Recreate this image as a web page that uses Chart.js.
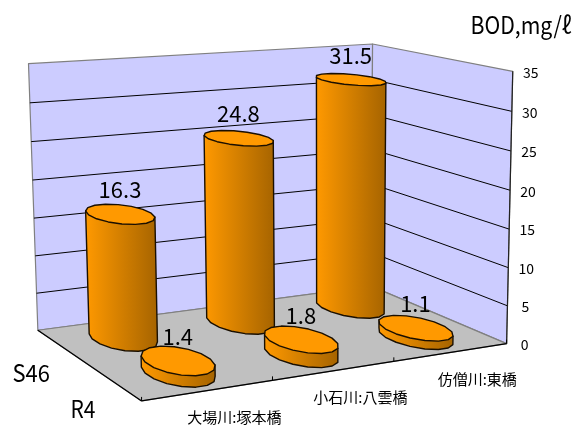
<!DOCTYPE html>
<html>
<head>
<meta charset="utf-8">
<style>
  html, body { margin: 0; padding: 0; background: #fff; }
  canvas { display: block; }
</style>
<script src="https://cdn.jsdelivr.net/npm/chart.js@4"></script>
</head>
<body>
<canvas id="chart" width="575" height="430"></canvas>
<script>
const categories = ['大場川:塚本橋', '小石川:八雲橋', '仿僧川:東橋'];
const seriesNames = ['S46', 'R4'];
const s46Values = [16.3, 24.8, 31.5];
const r4Values = [1.4, 1.8, 1.1];
const axisTitle = 'BOD,mg/ℓ';
const yMax = 35;
const yStep = 5;

const JP = '"Noto Sans CJK JP", sans-serif';

// where the corners of the unit box (u, v, w) land on the page
const boxCorners = [
  [0, 0, 0, 142, 402],
  [1, 0, 0, 505, 343],
  [0, 1, 0, 37, 329],
  [1, 1, 0, 373, 287],
  [0, 1, 1, 29, 64],
  [1, 1, 1, 371, 44],
  [1, 0, 1, 514, 71],
];

// least squares fit of a projective camera to the corners above
function fitCamera(pts) {
  const rows = [];
  pts.forEach(([u, v, w, x, y]) => {
    rows.push([u, v, w, 1, 0, 0, 0, 0, -x * u, -x * v, -x * w, x]);
    rows.push([0, 0, 0, 0, u, v, w, 1, -y * u, -y * v, -y * w, y]);
  });
  const n = 11;
  const m = [];
  for (let i = 0; i < n; i++) {
    m.push(new Array(n + 1).fill(0));
    for (let j = 0; j <= n; j++) {
      rows.forEach((r) => { m[i][j] += r[i] * r[j]; });
    }
  }
  for (let i = 0; i < n; i++) {
    let p = i;
    for (let k = i + 1; k < n; k++) if (Math.abs(m[k][i]) > Math.abs(m[p][i])) p = k;
    [m[i], m[p]] = [m[p], m[i]];
    for (let k = 0; k < n; k++) {
      if (k === i) continue;
      const f = m[k][i] / m[i][i];
      for (let j = i; j <= n; j++) m[k][j] -= f * m[i][j];
    }
  }
  return m.map((r, i) => r[n] / r[i]);
}
const cam = fitCamera(boxCorners);

function project(u, v, w) {
  const d = cam[8] * u + cam[9] * v + cam[10] * w + 1;
  return [
    (cam[0] * u + cam[1] * v + cam[2] * w + cam[3]) / d,
    (cam[4] * u + cam[5] * v + cam[6] * w + cam[7]) / d,
  ];
}

function poly(ctx, pts, fill, stroke, width) {
  ctx.beginPath();
  pts.forEach((p, i) => (i ? ctx.lineTo(p[0], p[1]) : ctx.moveTo(p[0], p[1])));
  ctx.closePath();
  if (fill) { ctx.fillStyle = fill; ctx.fill(); }
  if (stroke) { ctx.strokeStyle = stroke; ctx.lineWidth = width || 1; ctx.stroke(); }
}

function line(ctx, a, b, color, width) {
  ctx.beginPath();
  ctx.moveTo(a[0], a[1]);
  ctx.lineTo(b[0], b[1]);
  ctx.strokeStyle = color;
  ctx.lineWidth = width || 1;
  ctx.stroke();
}

function text(ctx, str, x, y, font, maxWidth) {
  ctx.font = font;
  ctx.fillStyle = '#000';
  ctx.textAlign = 'center';
  ctx.textBaseline = 'middle';
  if (maxWidth) ctx.fillText(str, x, y, maxWidth);
  else ctx.fillText(str, x, y);
}

const DU = 0.075;
const DV = 0.2;

function ring(u, v, w) {
  const pts = [];
  for (let i = 0; i < 16; i++) {
    const t = (i + 0.5) / 16 * Math.PI * 2;
    pts.push(project(u + DU * Math.cos(t), v + DV * Math.sin(t), w));
  }
  return pts;
}

function cylinder(ctx, u, v, w) {
  const top = ring(u, v, w);
  const bot = ring(u, v, 0);
  const byX = (a, b) => a[0] - b[0];
  const tl = [...top].sort(byX)[0];
  const tr = [...top].sort(byX)[15];
  const bl = [...bot].sort(byX)[0];
  const br = [...bot].sort(byX)[15];
  const front = bot.filter((p) => {
    const lineY = bl[1] + (br[1] - bl[1]) * (p[0] - bl[0]) / (br[0] - bl[0]);
    return p[1] > lineY;
  }).sort((a, b) => b[0] - a[0]);
  const g = ctx.createLinearGradient(Math.min(tl[0], bl[0]), 0, Math.max(tr[0], br[0]), 0);
  g.addColorStop(0, '#FF9900');
  g.addColorStop(1, '#A66400');
  poly(ctx, [tl, tr, br, ...front, bl], g, '#1a0f00', 1.4);
  poly(ctx, top, '#FF9900', '#1a0f00', 1.4);
}

const box3d = {
  id: 'box3d',
  beforeDatasetsDraw(chart) {
    const ctx = chart.ctx;
    const area = chart.chartArea;
    const yScale = chart.scales.y;
    const toW = (px) => (area.bottom - px) / area.height;

    ctx.save();
    ctx.lineJoin = 'round';

    // walls and floor
    poly(ctx, [project(0, 1, 0), project(1, 1, 0), project(1, 1, 1), project(0, 1, 1)], '#CCCCFF', '#808080', 1.2);
    poly(ctx, [project(1, 1, 0), project(1, 0, 0), project(1, 0, 1), project(1, 1, 1)], '#CCCCFF', '#808080', 1.2);
    poly(ctx, [project(0, 0, 0), project(1, 0, 0), project(1, 1, 0), project(0, 1, 0)], '#C0C0C0', '#808080', 1.2);

    // grid lines and value labels
    yScale.ticks.forEach((t) => {
      const w = toW(yScale.getPixelForValue(t.value));
      if (w > 0 && w < 1) {
        line(ctx, project(0, 1, w), project(1, 1, w), '#000');
        line(ctx, project(1, 1, w), project(1, 0, w), '#000');
      }
      const p = project(1, 0, w);
      text(ctx, String(t.value), p[0] + 18, p[1] + 1, '14px ' + JP);
    });

    // axis edges
    line(ctx, project(0, 0, 0), project(1, 0, 0), '#000', 1.2);
    line(ctx, project(0, 0, 0), project(0, 1, 0), '#000', 1.2);
    line(ctx, project(1, 0, 0), project(1, 0, 1), '#222', 1.2);

    // category ticks and labels
    const n = categories.length;
    for (let i = 0; i <= n; i++) {
      const p = project(i / n, 0, 0);
      line(ctx, p, [p[0], p[1] - 4], '#000');
    }
    const catOffsets = [[0, 0], [0, 0], [0, 0]];
    chart.getDatasetMeta(0).data.forEach((el, i) => {
      const p = project((el.x - area.left) / area.width, 0, 0);
      text(ctx, categories[i], p[0] + 26 + catOffsets[i][0], p[1] + 27 + catOffsets[i][1], '15px ' + JP);
    });

    // series names along the depth edge
    seriesNames.forEach((name, s) => {
      const p = project(0, s === 0 ? 0.75 : 0.25, 0);
      text(ctx, name, p[0] - 30, p[1] + 27, '24px ' + JP, name.length * 12.5);
    });

    // bars, back row first, labels on top
    [0, 1].forEach((s) => {
      const v = s === 0 ? 0.75 : 0.25;
      chart.getDatasetMeta(s).data.forEach((el) => {
        cylinder(ctx, (el.x - area.left) / area.width, v, toW(el.y));
      });
    });
    [0, 1].forEach((s) => {
      const v = s === 0 ? 0.75 : 0.25;
      chart.getDatasetMeta(s).data.forEach((el, i) => {
        const p = project((el.x - area.left) / area.width, v, toW(el.y));
        text(ctx, String(chart.data.datasets[s].data[i].toFixed(1)), p[0], p[1] - 24, '22px ' + JP);
      });
    });

    text(ctx, axisTitle, 521, 25, '24px ' + JP, 101);
    ctx.restore();
    return false;
  },
};

new Chart(document.getElementById('chart'), {
  type: 'bar',
  data: {
    labels: categories,
    datasets: [
      { label: seriesNames[0], data: s46Values },
      { label: seriesNames[1], data: r4Values },
    ],
  },
  options: {
    responsive: false,
    animation: false,
    grouped: false,
    layout: { padding: 0 },
    plugins: { legend: { display: false }, tooltip: { enabled: false } },
    scales: {
      x: { display: false },
      y: { display: false, min: 0, max: yMax, ticks: { stepSize: yStep } },
    },
  },
  plugins: [box3d],
});
</script>
</body>
</html>
